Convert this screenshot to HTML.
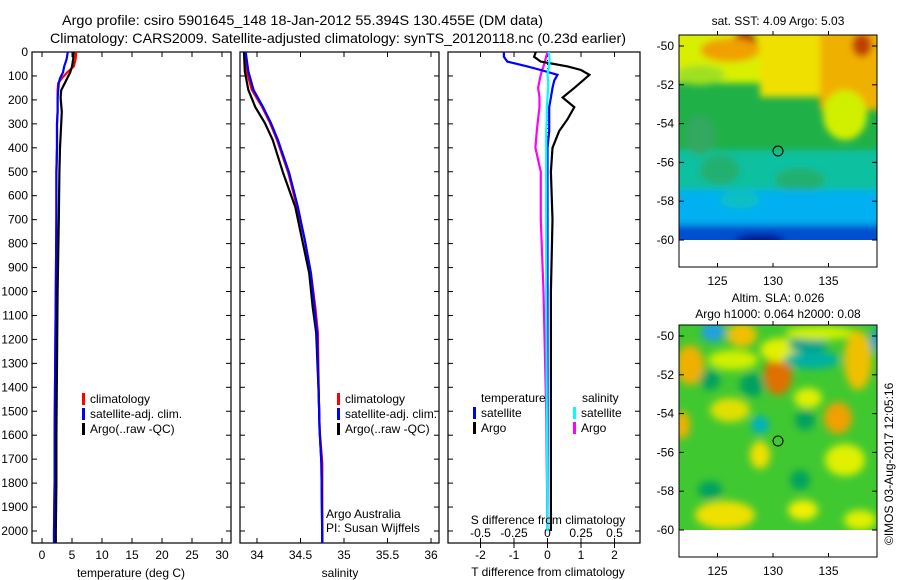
<!DOCTYPE html>
<html><head><meta charset="utf-8"><style>
body{margin:0;background:#fff;}
svg{display:block;font-family:"Liberation Sans",sans-serif;}
text{font-size:12px;fill:#000;}
</style></head><body>
<svg id="fig" width="900" height="580" viewBox="0 0 900 580">
<defs>
<filter id="blur" x="-20%" y="-20%" width="140%" height="140%"><feGaussianBlur stdDeviation="3.5"/></filter>
<filter id="blur2" x="-20%" y="-20%" width="140%" height="140%"><feGaussianBlur stdDeviation="4"/></filter>
<clipPath id="c1"><rect x="679" y="35" width="198" height="205"/></clipPath>
<clipPath id="c2"><rect x="679" y="325" width="198" height="205"/></clipPath>
</defs>
<text x="62" y="25" textLength="481" lengthAdjust="spacingAndGlyphs" style="font-size:14px">Argo profile: csiro 5901645_148 18-Jan-2012 55.394S 130.455E (DM data)</text>
<text x="50" y="43" textLength="576" lengthAdjust="spacingAndGlyphs" style="font-size:14px">Climatology: CARS2009. Satellite-adjusted climatology: synTS_20120118.nc (0.23d earlier)</text>

<!-- SST map -->
<g>
<text x="778" y="25" text-anchor="middle">sat. SST: 4.09 Argo: 5.03</text>
<g clip-path="url(#c1)">
<rect x="679" y="35" width="198" height="205" fill="#20b048"/>
<g filter="url(#blur)">
<rect x="670" y="25" width="220" height="58" fill="#d8f000"/>
<rect x="760" y="25" width="130" height="72" fill="#f0e000"/>
<rect x="820" y="30" width="70" height="80" fill="#f0b000"/>
<ellipse cx="745" cy="42" rx="12" ry="12" fill="#b03000"/>
<ellipse cx="862" cy="45" rx="10" ry="12" fill="#c04000"/>
<ellipse cx="730" cy="50" rx="30" ry="12" fill="#f0a000"/>
<ellipse cx="845" cy="115" rx="22" ry="25" fill="#d0f000"/>
<ellipse cx="700" cy="75" rx="25" ry="10" fill="#a0e020"/>
<rect x="670" y="150" width="220" height="50" fill="#10c0a0"/>
<ellipse cx="720" cy="170" rx="20" ry="15" fill="#20b070"/>
<ellipse cx="800" cy="180" rx="25" ry="12" fill="#20b070"/>
<rect x="670" y="190" width="220" height="40" fill="#00b0f0"/>
<ellipse cx="740" cy="200" rx="20" ry="8" fill="#10c0c0"/>
<rect x="670" y="225" width="220" height="25" fill="#0050d0"/>
<ellipse cx="760" cy="240" rx="25" ry="6" fill="#001890"/>
<ellipse cx="700" cy="135" rx="15" ry="20" fill="#30a860"/>
</g>
</g>
<rect x="679" y="35" width="198" height="232" fill="none" stroke="#000"/>
<circle cx="778" cy="151" r="5" fill="none" stroke="#000"/>
</g>

<!-- SLA map -->
<g>
<text x="778" y="302" text-anchor="middle">Altim. SLA: 0.026</text>
<text x="778" y="318" text-anchor="middle">Argo h1000: 0.064 h2000: 0.08</text>
<g clip-path="url(#c2)">
<rect x="679" y="325" width="198" height="205" fill="#40c830"/>
<g filter="url(#blur2)">
<ellipse cx="713" cy="332" rx="12" ry="10" fill="#20a0e0"/>
<ellipse cx="742" cy="335" rx="15" ry="12" fill="#f0c000"/>
<ellipse cx="733" cy="360" rx="25" ry="10" fill="#d0f000"/>
<ellipse cx="690" cy="365" rx="14" ry="20" fill="#f0b000"/>
<ellipse cx="778" cy="375" rx="14" ry="20" fill="#e07000"/>
<ellipse cx="780" cy="350" rx="20" ry="12" fill="#e0f000"/>
<ellipse cx="812" cy="360" rx="28" ry="9" fill="#00b0a0"/>
<ellipse cx="808" cy="345" rx="20" ry="7" fill="#00a090"/>
<ellipse cx="820" cy="333" rx="35" ry="7" fill="#d0f000"/>
<ellipse cx="858" cy="360" rx="14" ry="30" fill="#f0c000"/>
<ellipse cx="876" cy="340" rx="5" ry="12" fill="#00a0e0"/>
<ellipse cx="752" cy="385" rx="12" ry="12" fill="#00a060"/>
<ellipse cx="710" cy="380" rx="10" ry="10" fill="#00a060"/>
<ellipse cx="730" cy="410" rx="20" ry="12" fill="#e0e000"/>
<ellipse cx="760" cy="425" rx="9" ry="9" fill="#00b0c0"/>
<ellipse cx="682" cy="425" rx="8" ry="14" fill="#f0b000"/>
<ellipse cx="838" cy="418" rx="14" ry="16" fill="#f0a000"/>
<ellipse cx="808" cy="398" rx="14" ry="10" fill="#e0f000"/>
<ellipse cx="805" cy="420" rx="10" ry="10" fill="#00a060"/>
<ellipse cx="760" cy="455" rx="10" ry="14" fill="#f0e000"/>
<ellipse cx="845" cy="460" rx="20" ry="16" fill="#e0f000"/>
<ellipse cx="710" cy="490" rx="12" ry="9" fill="#00a060"/>
<ellipse cx="725" cy="515" rx="30" ry="14" fill="#f0e000"/>
<ellipse cx="800" cy="480" rx="10" ry="10" fill="#00a060"/>
<ellipse cx="803" cy="510" rx="15" ry="10" fill="#f0f000"/>
<ellipse cx="860" cy="520" rx="16" ry="10" fill="#e0f000"/>
</g>
</g>
<rect x="679" y="325" width="198" height="232" fill="none" stroke="#000"/>
<circle cx="778" cy="441" r="5" fill="none" stroke="#000"/>
</g>
<text transform="translate(893,545) rotate(-90)">©IMOS 03-Aug-2017 12:05:16</text>
</svg>
<script>
// ---- data ----
const depthTicks = [0,100,200,300,400,500,600,700,800,900,1000,1100,1200,1300,1400,1500,1600,1700,1800,1900,2000];
const tempTicks = [0,5,10,15,20,25,30];
const salTicks = [34,34.5,35,35.5,36];
const salTickLabels = ["34","34.5","35","35.5","36"];
const tdiffTicks = [-2,-1,0,1,2];
const sdiffTicks = [-0.5,-0.25,0,0.25,0.5];
const sdiffTickLabels = ["-0.5","-0.25","0","0.25","0.5"];
const mapLatTicks = [-50,-52,-54,-56,-58,-60];
const mapLonTicks = [125,130,135];

const depthProf = [0,30,60,85,110,130,160,190,250,300,400,500,700,1000,1300,1600,1800,2000,2050];
const tempClim = [5.7,5.6,5.3,4.2,3.3,2.7,2.6,2.6,2.6,2.5,2.5,2.4,2.4,2.3,2.2,2.1,2.1,2.0,2.0];
const tempSat  = [4.3,4.1,3.7,3.5,3.0,2.8,2.7,2.6,2.6,2.5,2.5,2.4,2.4,2.3,2.2,2.1,2.1,2.0,2.0];
const tempArgo = [5.3,5.2,5.0,4.7,4.2,3.8,3.2,3.1,3.3,3.2,3.0,2.9,2.8,2.6,2.5,2.4,2.4,2.3,2.3];

const depthSal = [0,80,158,230,296,367,505,647,785,923,1065,1173,1440,1578,1716,2050];
const salClim = [33.86,33.88,33.94,34.06,34.15,34.23,34.36,34.46,34.55,34.62,34.67,34.70,34.71,34.72,34.75,34.75];
const salSat  = [33.87,33.90,33.96,34.07,34.16,34.24,34.37,34.47,34.55,34.62,34.66,34.69,34.71,34.72,34.74,34.75];
const salArgo = [33.85,33.86,33.90,33.98,34.09,34.18,34.30,34.44,34.52,34.60,34.64,34.68,34.71,34.72,34.74,34.75];

const depthDiff = [0,20,40,60,75,95,120,150,190,230,280,330,400,500,700,1000,1500,2000];
const tdiffSat  = [-1.3,-1.3,-1.2,-0.6,-0.2,0.3,0.2,0.15,0.1,0.05,0.05,0.05,0.0,0.0,0.0,0.0,0.0,0.0];
const tdiffArgo = [-0.35,-0.4,-0.2,0.6,1.0,1.25,1.05,0.8,0.45,0.8,0.6,0.35,0.15,0.1,0.15,0.1,0.1,0.1];
const sdiffSat  = [0.01,0.015,0.015,0.01,0.005,0.0,0.005,0.005,0.0,-0.005,-0.005,-0.01,-0.01,-0.01,-0.01,-0.01,-0.005,0.0];
const sdiffArgo = [0.0,-0.01,-0.02,-0.03,-0.04,-0.05,-0.06,-0.07,-0.06,-0.06,-0.07,-0.08,-0.09,-0.05,-0.05,-0.03,-0.01,0.0];

// ---- scales ----
const Y0=52, YPX=0.2395, PBOT=543;
const yD = d => Y0 + d*YPX;
const xT = t => 42 + t*6;
const xS = s => 257 + (s-34)*87;
const xTd = t => 547.5 + t*33.5;
const xSd = s => 547.5 + s*134;
const NS='http://www.w3.org/2000/svg';
const svg=document.getElementById('fig');
function mk(tag,attrs,parent){const e=document.createElementNS(NS,tag);for(const k in attrs)e.setAttribute(k,attrs[k]);(parent||svg).appendChild(e);return e;}

function panel(x0,x1,name){
  const g=mk('g',{});
  
  
  const r=mk('rect',{x:x0,y:Y0,width:x1-x0,height:PBOT-Y0,fill:'none',stroke:'#000','stroke-width':1.2},g);
  
  
  depthTicks.forEach(d=>{const y=yD(d);
    mk('line',{x1:x0,x2:x0+5,y1:y,y2:y,stroke:'#000'},g);
    mk('line',{x1:x1-5,x2:x1,y1:y,y2:y,stroke:'#000'},g);});
  return g;
}
function xticks(g,x1,ticks,fx,labels,ylab){
  ticks.forEach((v,i)=>{const x=fx(v);
    mk('line',{x1:x,x2:x,y1:PBOT,y2:PBOT-5,stroke:'#000'},g);
    mk('line',{x1:x,x2:x,y1:Y0,y2:Y0+5,stroke:'#000'},g);
    const t=mk('text',{x:x,y:ylab,'text-anchor':'middle'},g);t.textContent=labels[i];
    
    });
}
function line(g,xs,ds,fx,color,name){
  const pts=xs.map((v,i)=>fx(v).toFixed(1)+','+yD(ds[i]).toFixed(1)).join(' ');
  const p=mk('polyline',{points:pts,fill:'none',stroke:color,'stroke-width':2.2},g);
  
  
}
function legend(g,x,y,items){
  items.forEach((it,i)=>{
    const m=mk('rect',{x:x,y:y+i*15-10,width:3,height:12,fill:it[1]},g);
    
    
    const t=mk('text',{x:x+8,y:y+i*15},g);t.textContent=it[0];
    
    });
}

depthTicks.forEach(d=>{const t=mk('text',{x:28,y:yD(d)+4,'text-anchor':'end'});t.textContent=d;
  
  });

const g1=panel(32,231,'temperature-panel');
xticks(g1,231,tempTicks,xT,tempTicks.map(String),559);
line(g1,tempClim,depthProf,xT,'#f00','temp-climatology-line');
line(g1,tempSat,depthProf,xT,'#00f','temp-satellite-line');
line(g1,tempArgo,depthProf,xT,'#000','temp-argo-line');
legend(g1,82,403,[['climatology','#f00'],['satellite-adj. clim.','#00f'],['Argo(..raw -QC)','#000']]);
let t=mk('text',{x:131,y:577,'text-anchor':'middle'},g1);t.textContent='temperature (deg C)';



const g2=panel(240,439,'salinity-panel');
xticks(g2,439,salTicks,xS,salTickLabels,559);
line(g2,salClim,depthSal,xS,'#f00','sal-climatology-line');
line(g2,salArgo,depthSal,xS,'#000','sal-argo-line');
line(g2,salSat,depthSal,xS,'#00f','sal-satellite-line');
legend(g2,337,403,[['climatology','#f00'],['satellite-adj. clim.','#00f'],['Argo(..raw -QC)','#000']]);
t=mk('text',{x:326,y:518},g2);t.textContent='Argo Australia';


t=mk('text',{x:326,y:532},g2);t.textContent='PI: Susan Wijffels';


t=mk('text',{x:340,y:577,'text-anchor':'middle'},g2);t.textContent='salinity';



const g3=panel(448,640,'difference-panel');
tdiffTicks.forEach(v=>{const x=xTd(v);
  mk('line',{x1:x,x2:x,y1:PBOT,y2:PBOT+5,stroke:'#000'},g3);
  mk('line',{x1:x,x2:x,y1:Y0,y2:Y0+5,stroke:'#000'},g3);
  const tt=mk('text',{x:x,y:559,'text-anchor':'middle'},g3);tt.textContent=v;
  
  });
sdiffTicks.forEach((v,i)=>{const x=xSd(v);
  mk('line',{x1:x,x2:x,y1:PBOT,y2:PBOT-5,stroke:'#000'},g3);
  const tt=mk('text',{x:x,y:537,'text-anchor':'middle'},g3);tt.textContent=sdiffTickLabels[i];
  
  });
mk('line',{x1:xTd(0),x2:xTd(0),y1:Y0,y2:yD(400),stroke:'#000','stroke-dasharray':'1,3'},g3);
line(g3,sdiffArgo,depthDiff,xSd,'#f0f','sdiff-argo-line');
line(g3,tdiffArgo,depthDiff,xTd,'#000','tdiff-argo-line');
line(g3,tdiffSat,depthDiff,xTd,'#00f','tdiff-satellite-line');
line(g3,sdiffSat,depthDiff,xSd,'#0ff','sdiff-satellite-line');
t=mk('text',{x:481,y:402},g3);t.textContent='temperature';


t=mk('text',{x:582,y:402},g3);t.textContent='salinity';


legend(g3,473,417,[['satellite','#00f'],['Argo','#000']]);
legend(g3,573,417,[['satellite','#0ff'],['Argo','#f0f']]);
t=mk('text',{x:548,y:524,'text-anchor':'middle'},g3);t.textContent='S difference from climatology';


t=mk('text',{x:548,y:576,'text-anchor':'middle'},g3);t.textContent='T difference from climatology';



function mapAxes(top,name){
  const g=mk('g',{});
  
  
  mapLatTicks.forEach(v=>{const y=top+11+(-50-v)*19.4;
    mk('line',{x1:679,x2:684,y1:y,y2:y,stroke:'#000'},g);
    mk('line',{x1:872,x2:877,y1:y,y2:y,stroke:'#000'},g);
    const tt=mk('text',{x:674,y:y+4,'text-anchor':'end'},g);tt.textContent=v;
    
    });
  mapLonTicks.forEach(v=>{const x=773+(v-130)*11.1;
    mk('line',{x1:x,x2:x,y1:top,y2:top-4,stroke:'#000'},g);
    mk('line',{x1:x,x2:x,y1:top+232,y2:top+228,stroke:'#000'},g);
    const tt=mk('text',{x:x,y:top+250,'text-anchor':'middle'},g);tt.textContent=v;
    
    });
}
mapAxes(35,'sst-map-axes');
mapAxes(325,'sla-map-axes');
</script>
</body></html>
